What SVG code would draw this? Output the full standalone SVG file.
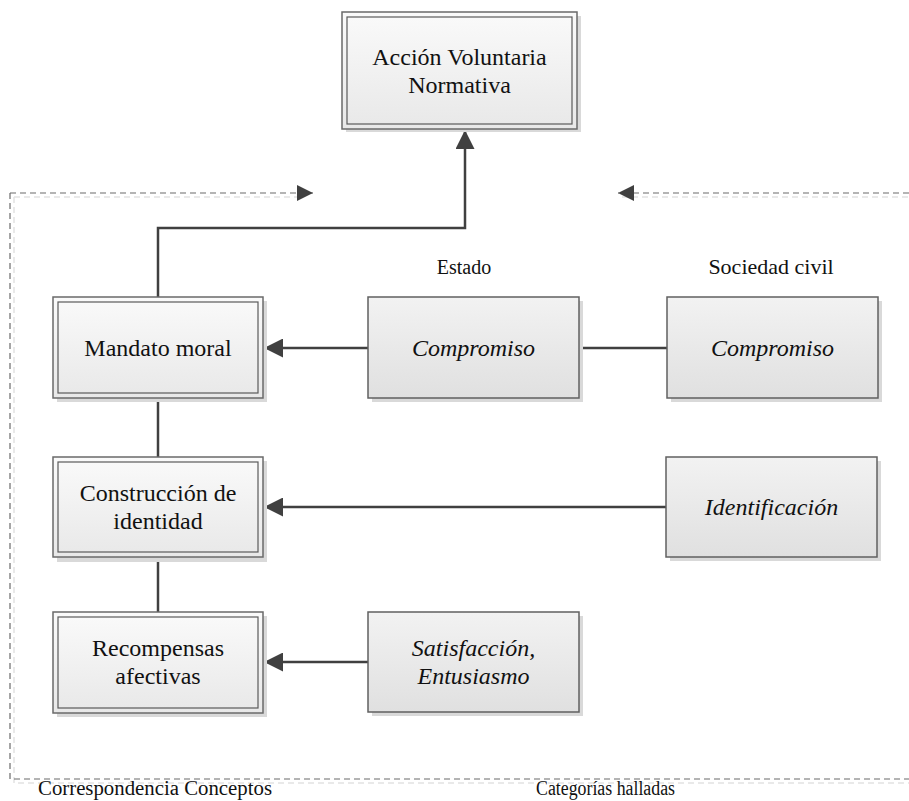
<svg xmlns="http://www.w3.org/2000/svg" width="909" height="801" viewBox="0 0 909 801">
  <defs>
    <linearGradient id="fillGrad" x1="0" y1="0" x2="0" y2="1">
      <stop offset="0" stop-color="#fafafa"/>
      <stop offset="1" stop-color="#e8e8e8"/>
    </linearGradient>
    <linearGradient id="fillGradDark" x1="0" y1="0" x2="0" y2="1">
      <stop offset="0" stop-color="#f2f2f2"/>
      <stop offset="1" stop-color="#e0e0e0"/>
    </linearGradient>
    <marker id="arrow" viewBox="0 0 10 10" refX="10" refY="5" markerWidth="19" markerHeight="19" markerUnits="userSpaceOnUse" orient="auto">
      <path d="M0,0 L10,5 L0,10 z" fill="#404040"/>
    </marker>
    <marker id="arrowSmall" viewBox="0 0 10 10" refX="10" refY="5" markerWidth="16" markerHeight="16" markerUnits="userSpaceOnUse" orient="auto">
      <path d="M0,0 L10,5 L0,10 z" fill="#404040"/>
    </marker>
  </defs>
  <style>
    .shadow { fill: #d9d9d9; }
    .outer { fill: url(#fillGrad); stroke: #6a6a6a; stroke-width: 1.5; }
    .inner { fill: none; stroke: #5a5a5a; stroke-width: 1.2; }
    .single { fill: url(#fillGradDark); stroke: #606060; stroke-width: 1.5; }
    .label { font-family: "Liberation Serif", "Times New Roman", serif; font-size: 24px; fill: #111; text-anchor: middle; }
    .italic { font-style: italic; }
    .caption { font-family: "Liberation Serif", "Times New Roman", serif; font-size: 22px; fill: #111; text-anchor: middle; }
    .small { font-size: 20px; }
    .foot { font-family: "Liberation Serif", "Times New Roman", serif; font-size: 20px; fill: #111; }
    .conn { fill: none; stroke: #404040; stroke-width: 2.5; }
    .dash { fill: none; stroke: #6a6a6a; stroke-width: 1.2; stroke-dasharray: 6 4; }
    .dashShade { fill: none; stroke: #e2e2e2; stroke-width: 1.5; stroke-dasharray: 6 4; }
  </style>

  <!-- dashed frame with its two arrowheads -->
  <g id="frame">
    <path class="dashShade" d="M14,197 H300 M622,197 H909 M14,197 V783 H909"/>
    <path class="dash" d="M10,193 H313" marker-end="url(#arrowSmall)"/>
    <path class="dash" d="M909,193 H618" marker-end="url(#arrowSmall)"/>
    <path class="dash" d="M10,193 V779 H909"/>
  </g>

  <!-- connectors -->
  <g id="connectors">
    <path class="conn" d="M158,297 V228 H465 V130" marker-end="url(#arrow)"/>
    <path class="conn" d="M368,348 H264" marker-end="url(#arrow)"/>
    <path class="conn" d="M579,348 H667"/>
    <path class="conn" d="M158,398 V457"/>
    <path class="conn" d="M158,557 V612"/>
    <path class="conn" d="M666,507 H264" marker-end="url(#arrow)"/>
    <path class="conn" d="M368,662 H264" marker-end="url(#arrow)"/>
  </g>

  <g id="accion">
    <rect class="shadow" x="346" y="16" width="235" height="116"/>
    <rect class="outer" x="342" y="12" width="235" height="117"/>
    <rect class="inner" x="347" y="17" width="225" height="107"/>
    <text class="label" x="459.5" y="65">Acción Voluntaria</text>
    <text class="label" x="459.5" y="93">Normativa</text>
  </g>

  <g id="mandato">
    <rect class="shadow" x="57" y="301" width="210" height="101"/>
    <rect class="outer" x="53" y="297" width="210" height="101"/>
    <rect class="inner" x="58" y="302" width="200" height="91"/>
    <text class="label" x="158" y="356">Mandato moral</text>
  </g>

  <g id="construccion">
    <rect class="shadow" x="57" y="461" width="210" height="101"/>
    <rect class="outer" x="53" y="457" width="210" height="100"/>
    <rect class="inner" x="58" y="462" width="200" height="90"/>
    <text class="label" x="158" y="501">Construcción de</text>
    <text class="label" x="158" y="529">identidad</text>
  </g>

  <g id="recompensas">
    <rect class="shadow" x="57" y="616" width="210" height="101"/>
    <rect class="outer" x="53" y="612" width="210" height="101"/>
    <rect class="inner" x="58" y="617" width="200" height="91"/>
    <text class="label" x="158" y="656">Recompensas</text>
    <text class="label" x="158" y="684">afectivas</text>
  </g>

  <g id="compromiso-estado">
    <rect class="shadow" x="372" y="301" width="211" height="101"/>
    <rect class="single" x="368" y="297" width="211" height="101"/>
    <text class="label italic" x="473.5" y="356">Compromiso</text>
  </g>

  <g id="compromiso-sociedad">
    <rect class="shadow" x="671" y="301" width="211" height="101"/>
    <rect class="single" x="667" y="297" width="211" height="101"/>
    <text class="label italic" x="772.5" y="356">Compromiso</text>
  </g>

  <g id="identificacion">
    <rect class="shadow" x="670" y="461" width="211" height="100"/>
    <rect class="single" x="666" y="457" width="211" height="100"/>
    <text class="label italic" x="771.5" y="515">Identificación</text>
  </g>

  <g id="satisfaccion">
    <rect class="shadow" x="372" y="616" width="211" height="100"/>
    <rect class="single" x="368" y="612" width="211" height="100"/>
    <text class="label italic" x="473.5" y="656">Satisfacción,</text>
    <text class="label italic" x="473.5" y="684">Entusiasmo</text>
  </g>

  <!-- column and frame captions -->
  <g id="captions">
    <text class="caption small" x="464" y="274">Estado</text>
    <text class="caption" x="771" y="274">Sociedad civil</text>
    <text class="foot" x="38" y="795" textLength="234" lengthAdjust="spacingAndGlyphs">Correspondencia Conceptos</text>
    <text class="foot" x="536" y="795" textLength="139" lengthAdjust="spacingAndGlyphs">Categorías halladas</text>
  </g>
</svg>
